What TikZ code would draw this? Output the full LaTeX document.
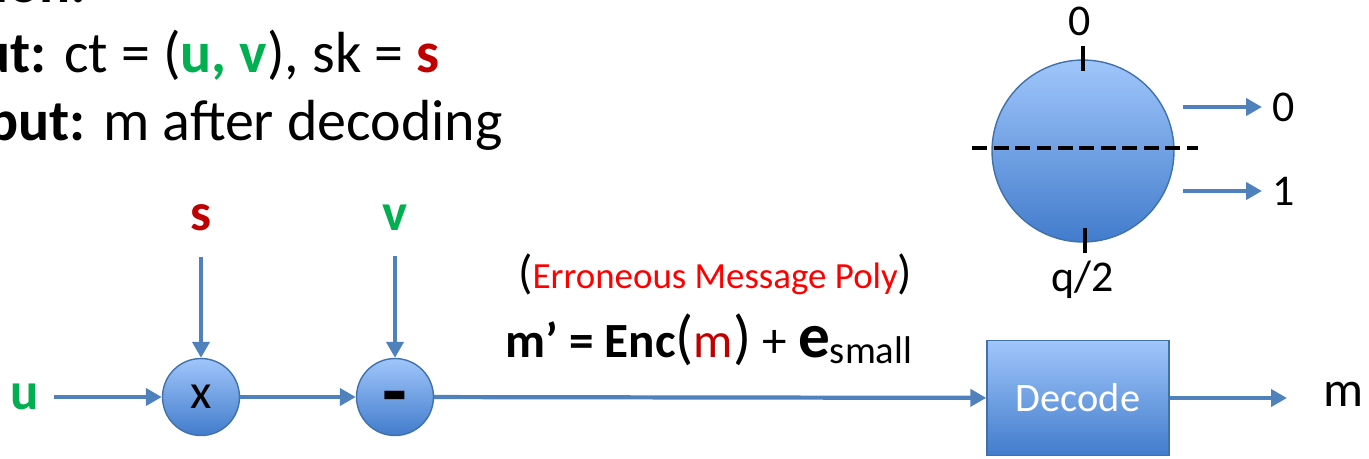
\documentclass[tikz,border=0pt]{standalone}
\usepackage{fontspec}
\setmainfont{Carlito}
\usepackage{tikz}
\usetikzlibrary{positioning, arrows.meta, shapes.geometric, calc}

\definecolor{flowblue}{RGB}{79,129,189}
\definecolor{opborder}{RGB}{65,113,170}
\definecolor{oplight}{RGB}{160,198,251}
\definecolor{opdark}{RGB}{66,124,204}
\definecolor{bitgreen}{RGB}{0,176,80}
\definecolor{keyred}{RGB}{192,0,0}
\definecolor{errred}{RGB}{255,0,0}

\begin{document}
\begin{tikzpicture}[x=0.02cm, y=-0.02cm, >={Triangle[length=0.32cm,width=0.34cm]}]
	\tikzstyle{flow}=[draw=flowblue, line width=2.4pt, ->]
	\tikzstyle{op}=[circle, draw=opborder, line width=0.8pt, top color=oplight, bottom color=opdark, minimum size=1.54cm, inner sep=0pt, font=\fontsize{28}{32}\selectfont]
	\tikzstyle{ring}=[op, minimum size=3.64cm]
	\tikzstyle{decbox}=[rectangle, draw=opborder, line width=0.8pt, top color=oplight, bottom color=opdark, minimum width=3.64cm, minimum height=2.3cm, text=white, font=\fontsize{23}{28}\selectfont]
	\tikzstyle{sym}=[inner sep=0pt, font=\fontsize{30}{36}\selectfont\bfseries]
	\tikzstyle{digit}=[inner sep=0pt, font=\fontsize{25}{30}\selectfont]
	\tikzstyle{tick}=[line width=2.8pt, black]
	\tikzstyle{line}=[inner sep=0pt, font=\fontsize{33}{39}\selectfont]
	
	\useasboundingbox (0,0) rectangle (1369,458);
	\clip (0,0) rectangle (1369,458);
	
	% Heading
	\node[line, anchor=base east] (ttl) at (87,2) {\textbf{Decryption:}};
	\node[line, anchor=base east] (inln) at (440,72) {\textbf{Input:} ct = (\textcolor{bitgreen}{\textbf{u, v}}), sk = \textcolor{keyred}{\textbf{s}}};
	\node[line, anchor=base east] (outln) at (503,140) {\textbf{Output:} m after decoding};
	
	% Decoding ring
	\node[ring] (ring) at (1083,151) {};
	\draw[tick] ($(ring.north)+(0,-13)$) -- ($(ring.north)+(0,12)$);
	\draw[tick] ($(ring.south)+(2,-15)$) -- ($(ring.south)+(2,10)$);
	\node[digit] (top0) at (1080,21) {0};
	\node[digit] (half) at (1083,280) {q/2};
	\draw[black, line width=2.6pt, dash pattern=on 0.3cm off 0.13cm] (972,148) -- (1198,148);
	\foreach \bit/\yy in {0/107,1/191}
	{
		\coordinate (tail-\bit) at (1183,\yy);
		\node[digit, anchor=west] (bit-\bit) at (1272,\yy) {\bit};
		\draw[flow, shorten >=0.2cm] (tail-\bit) -- (bit-\bit);
	}
	
	% Inputs
	\node[sym, text=bitgreen] (u) at (25,397) {u};
	\node[sym, text=keyred] (s) at (201,218) {s};
	\node[sym, text=bitgreen] (v) at (395,218) {v};
	
	% Operations
	\node[op] (mul) at (201,397) {x};
	\node[op, font=\fontsize{46}{48}\selectfont\bfseries] (sub) at (395,397) {\smash{\raisebox{-0.27em}{-}}};
	\node[decbox] (dec) at (1078,398) {Decode};
	\node[inner sep=0pt, anchor=west, font=\fontsize{28.5}{34}\selectfont] (m) at (1323,394) {m};
	
	% Edges
	\draw[flow, shorten <=0.3cm] (u) -- (mul);
	\draw[flow, shorten <=0.5cm] (s) -- (mul);
	\draw[flow, shorten <=0.5cm] (v) -- (sub);
	\draw[flow] (mul) -- (sub);
	\draw[flow] (sub) -- (dec);
	\draw[flow] (dec.east) -- ($(dec.east -| m.west)+(-36,0)$);
	
	% Annotations
	\node[inner sep=0pt, anchor=base west, font=\fontsize{21}{26}\selectfont] (errlbl) at (518,288) {{\fontsize{27}{30}\selectfont(}\textcolor{errred}{Erroneous Message Poly}{\fontsize{27}{30}\selectfont)}};
	\node[inner sep=0pt, anchor=base west, font=\fontsize{28}{34}\selectfont] (mform) at (505,357) {\textbf{m’ = Enc}{\fontsize{34}{40}\selectfont(}\textcolor{keyred}{m}{\fontsize{34}{40}\selectfont)} + {\fontsize{36}{40}\selectfont\bfseries e}{\fontsize{22}{26}\selectfont\raisebox{-0.35ex}{small}}};
\end{tikzpicture}
\end{document}
